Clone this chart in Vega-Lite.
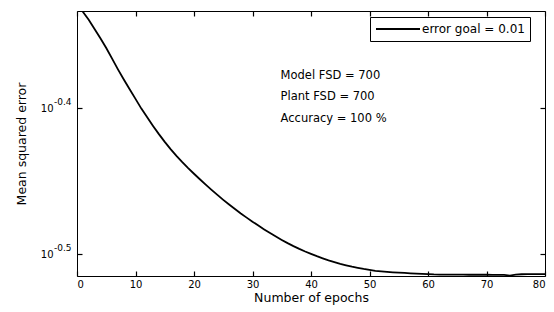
{
  "$schema": "https://vega.github.io/schema/vega-lite/v6.json",
  "width": 468,
  "height": 265,
  "autosize": {"type": "none"},
  "padding": {"left": 77, "top": 11, "right": 9, "bottom": 36},
  "background": "white",
  "config": {
    "view": {"stroke": "black", "strokeWidth": 1},
    "font": "DejaVu Sans",
    "axis": {
      "domain": false, "ticks": true, "tickColor": "black", "labelColor": "black", "titleColor": "black",
      "grid": false, "tickSize": 5, "tickWidth": 1.2, "offset": -5,
      "labelFont": "DejaVu Sans", "labelFontSize": 10,
      "titleFont": "DejaVu Sans", "titleFontWeight": "normal", "titleFontSize": 12.5
    }
  },
  "datasets": {
    "curve": [
      {"epoch": 0, "mse": 0.47108}, {"epoch": 1, "mse": 0.46392}, {"epoch": 2, "mse": 0.45809}, {"epoch": 3, "mse": 0.45141},
      {"epoch": 4, "mse": 0.44489}, {"epoch": 5, "mse": 0.43812}, {"epoch": 6, "mse": 0.43077}, {"epoch": 7, "mse": 0.42355},
      {"epoch": 8, "mse": 0.41678}, {"epoch": 9, "mse": 0.41044}, {"epoch": 10, "mse": 0.40419}, {"epoch": 11, "mse": 0.39804},
      {"epoch": 12, "mse": 0.39255}, {"epoch": 13, "mse": 0.38728}, {"epoch": 14, "mse": 0.38229}, {"epoch": 15, "mse": 0.37764},
      {"epoch": 16, "mse": 0.37334}, {"epoch": 17, "mse": 0.36937}, {"epoch": 18, "mse": 0.36572}, {"epoch": 19, "mse": 0.36229},
      {"epoch": 20, "mse": 0.35904}, {"epoch": 21, "mse": 0.35593}, {"epoch": 22, "mse": 0.35293}, {"epoch": 23, "mse": 0.35002},
      {"epoch": 24, "mse": 0.34721}, {"epoch": 25, "mse": 0.34453}, {"epoch": 26, "mse": 0.34198}, {"epoch": 27, "mse": 0.33956},
      {"epoch": 28, "mse": 0.33720}, {"epoch": 29, "mse": 0.33497}, {"epoch": 30, "mse": 0.33281}, {"epoch": 31, "mse": 0.33077},
      {"epoch": 32, "mse": 0.32879}, {"epoch": 33, "mse": 0.32690}, {"epoch": 34, "mse": 0.32509}, {"epoch": 35, "mse": 0.32336},
      {"epoch": 36, "mse": 0.32172}, {"epoch": 37, "mse": 0.32020}, {"epoch": 38, "mse": 0.31879}, {"epoch": 39, "mse": 0.31748},
      {"epoch": 40, "mse": 0.31628}, {"epoch": 41, "mse": 0.31513}, {"epoch": 42, "mse": 0.31409}, {"epoch": 43, "mse": 0.31309},
      {"epoch": 44, "mse": 0.31220}, {"epoch": 45, "mse": 0.31137}, {"epoch": 46, "mse": 0.31063}, {"epoch": 47, "mse": 0.30994},
      {"epoch": 48, "mse": 0.30936}, {"epoch": 49, "mse": 0.30882}, {"epoch": 50, "mse": 0.30836}, {"epoch": 51, "mse": 0.30794},
      {"epoch": 52, "mse": 0.30770}, {"epoch": 53, "mse": 0.30746}, {"epoch": 54, "mse": 0.30721}, {"epoch": 55, "mse": 0.30702},
      {"epoch": 56, "mse": 0.30688}, {"epoch": 57, "mse": 0.30673}, {"epoch": 58, "mse": 0.30659}, {"epoch": 59, "mse": 0.30644},
      {"epoch": 60, "mse": 0.30630}, {"epoch": 61, "mse": 0.30615}, {"epoch": 62, "mse": 0.30607}, {"epoch": 63, "mse": 0.30605},
      {"epoch": 64, "mse": 0.30604}, {"epoch": 65, "mse": 0.30603}, {"epoch": 66, "mse": 0.30603}, {"epoch": 67, "mse": 0.30602},
      {"epoch": 68, "mse": 0.30602}, {"epoch": 69, "mse": 0.30601}, {"epoch": 70, "mse": 0.30601}, {"epoch": 71, "mse": 0.30600},
      {"epoch": 72, "mse": 0.30600}, {"epoch": 73, "mse": 0.30600}, {"epoch": 74, "mse": 0.30562}, {"epoch": 75, "mse": 0.30610},
      {"epoch": 76, "mse": 0.30625}, {"epoch": 77, "mse": 0.30628}, {"epoch": 78, "mse": 0.30630}, {"epoch": 79, "mse": 0.30630},
      {"epoch": 80, "mse": 0.30630}
    ],
    "notes": [
      {"x": 34.8, "y": 0.4193, "note": "Model FSD = 700"},
      {"x": 34.8, "y": 0.4055, "note": "Plant FSD = 700"},
      {"x": 34.8, "y": 0.3915, "note": "Accuracy = 100 %"}
    ],
    "exps": [
      {"tick": 0.398107, "exp": "-0.4"},
      {"tick": 0.316228, "exp": "-0.5"}
    ]
  },
  "layer": [
    {
      "data": {"name": "curve"},
      "mark": {"type": "line", "strokeWidth": 1.8, "clip": true},
      "encoding": {
        "x": {
          "field": "epoch", "type": "quantitative",
          "scale": {"domain": [0, 80], "nice": false, "zero": false},
          "axis": {"orient": "bottom", "values": [0, 10, 20, 30, 40, 50, 60, 70, 80], "labelPadding": 3, "title": "Number of epochs", "titlePadding": 2}
        },
        "y": {
          "field": "mse", "type": "quantitative",
          "scale": {"type": "log", "domain": [0.30541, 0.46451], "nice": false, "zero": false},
          "axis": {"orient": "left", "values": [0.316228, 0.398107], "labelExpr": "'10'", "labelPadding": 24, "title": "Mean squared error", "titlePadding": 12}
        },
        "color": {
          "datum": "error goal = 0.01",
          "scale": {"range": ["black"]},
          "legend": {
            "title": null, "orient": "none", "legendX": 293, "legendY": 6,
            "symbolType": "stroke", "symbolSize": 1936, "symbolStrokeWidth": 1.8, "symbolStrokeColor": "black",
            "clipHeight": 14,
            "labelFont": "DejaVu Sans", "labelFontSize": 12, "labelColor": "black", "labelOffset": 1,
            "strokeColor": "black", "fillColor": "white", "padding": 5, "cornerRadius": 0
          }
        }
      }
    },
    {
      "data": {"name": "notes"},
      "mark": {"type": "text", "align": "left", "baseline": "middle", "fontSize": 11.5, "font": "DejaVu Sans", "color": "black"},
      "encoding": {
        "x": {
          "field": "x", "type": "quantitative",
          "scale": {"domain": [0, 80], "nice": false, "zero": false},
          "axis": {"orient": "top", "labels": false, "title": null, "values": [0, 10, 20, 30, 40, 50, 60, 70, 80]}
        },
        "y": {
          "field": "y", "type": "quantitative",
          "scale": {"type": "log", "domain": [0.30541, 0.46451], "nice": false, "zero": false},
          "axis": {"orient": "right", "labels": false, "title": null, "values": [0.316228, 0.398107]}
        },
        "text": {"field": "note"}
      }
    },
    {
      "data": {"name": "exps"},
      "mark": {"type": "text", "align": "left", "baseline": "middle", "fontSize": 9, "font": "DejaVu Sans", "color": "black", "dy": -6},
      "encoding": {
        "x": {"datum": -3.93, "type": "quantitative", "axis": null},
        "y": {"field": "tick", "type": "quantitative", "axis": null},
        "text": {"field": "exp"}
      }
    }
  ],
  "resolve": {"axis": {"x": "independent", "y": "independent"}}
}
